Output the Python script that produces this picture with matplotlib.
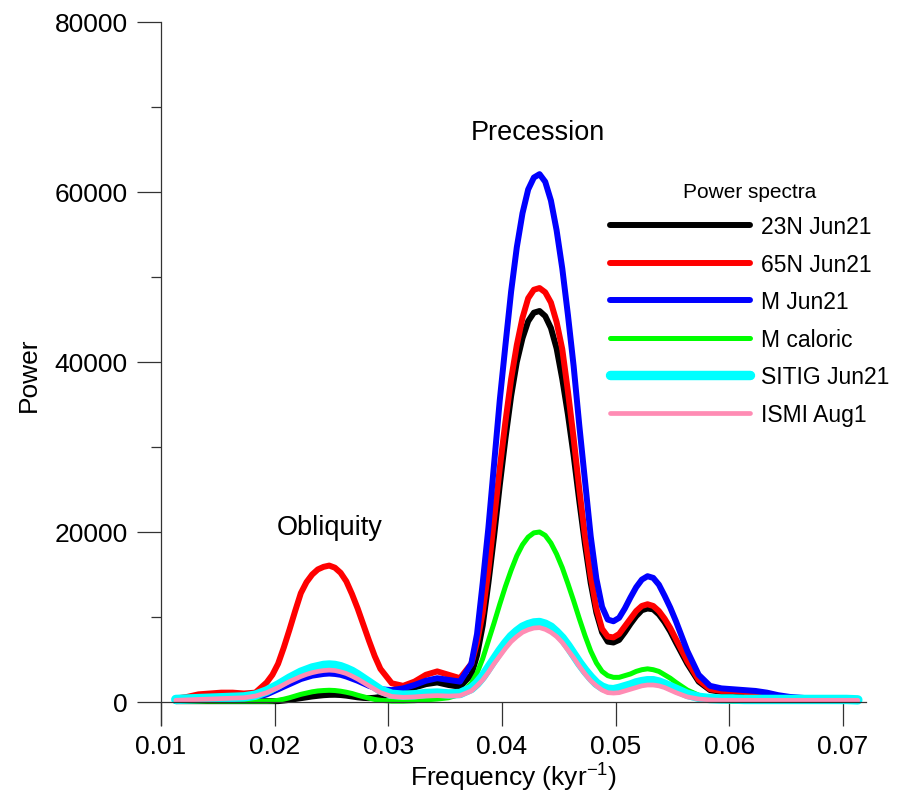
import matplotlib
matplotlib.use('Agg')
import matplotlib.pyplot as plt
import numpy as np

plt.rcParams['font.family'] = ['Liberation Sans', 'DejaVu Sans']
plt.rcParams['mathtext.default'] = 'regular'

# frequency grid (kyr^-1): finer steps around the obliquity and precession peaks
freq = np.concatenate([np.linspace(0.0113, 0.0183, 8),
                       np.linspace(0.0193, 0.0293, 21),
                       np.linspace(0.0303, 0.0363, 7),
                       np.linspace(0.0373, 0.0553, 37),
                       np.linspace(0.0563, 0.0713, 16)])

# power spectra
p_23n = ([100, 100, 100, 100, 100, 100, 100, 100] +
         [100, 100, 100, 170, 250, 350, 450, 550, 650, 730, 800, 840, 850, 820, 750, 650,
          550, 480, 450, 500, 600] +
         [900, 1300, 1700, 2100, 2300, 2000, 1800] +
         [3200, 5500, 9000, 14000, 19500, 25500, 31000, 36000, 40000, 42800, 44800, 45800,
          46000, 45400, 44000, 41600, 38000, 33800, 29000, 23600, 18500, 14000, 10500, 8200,
          7100, 7000, 7300, 8200, 9200, 10100, 10800, 11000, 10900, 10300, 9400, 8300, 7000] +
         [4500, 2400, 1400, 1200, 1200, 1100, 800, 500, 300, 300, 300, 300, 300, 300, 300, 300])
p_65n = ([400, 600, 900, 1000, 1100, 1100, 1000, 1100] +
         [2300, 3200, 4500, 6400, 8500, 10700, 12800, 14100, 15000, 15600, 15900, 16050, 15800,
          15200, 14200, 12700, 11000, 9100, 7200, 5400, 3900] +
         [2200, 1900, 2400, 3200, 3600, 3200, 2800] +
         [4500, 7000, 10500, 15500, 21500, 27500, 33000, 38000, 42000, 45200, 47500, 48500,
          48700, 48200, 47000, 44700, 41500, 36500, 31000, 25000, 19500, 14800, 11000, 8600,
          7700, 7600, 8000, 8900, 9800, 10700, 11300, 11500, 11300, 10700, 9800, 8700, 7400] +
         [4800, 2600, 1500, 1300, 1300, 1200, 900, 600, 400, 300, 300, 300, 300, 300, 300, 300])
p_m = ([300, 300, 300, 300, 300, 300, 350, 500] +
       [900, 1200, 1500, 1800, 2100, 2400, 2700, 2900, 3100, 3200, 3300, 3350, 3300, 3200,
        3000, 2750, 2500, 2200, 1900, 1700, 1500] +
       [1400, 1600, 2000, 2500, 2800, 2600, 2400] +
       [4500, 8000, 14000, 20500, 28000, 35500, 42000, 48300, 53500, 57500, 60300, 61700,
        62100, 61200, 59000, 55500, 51000, 45500, 39500, 32500, 26000, 19500, 14500, 11200,
        9700, 9500, 9900, 11000, 12300, 13500, 14400, 14800, 14600, 13800, 12500, 11100, 9500] +
       [6000, 3200, 1900, 1600, 1500, 1400, 1300, 1100, 800, 600, 500, 400, 300, 300, 300, 300])
p_mcal = ([100, 100, 100, 100, 100, 100, 100, 100] +
          [100, 120, 200, 330, 500, 700, 900, 1050, 1200, 1300, 1350, 1380, 1350, 1270, 1150,
           1000, 800, 620, 450, 300, 200] +
          [100, 100, 150, 250, 350, 500, 900] +
          [2200, 3400, 5100, 7200, 9300, 11500, 13600, 15500, 17200, 18500, 19400, 19900,
           20000, 19600, 18700, 17400, 15800, 13900, 11900, 9800, 7800, 6000, 4600, 3600,
           3100, 2900, 2900, 3100, 3300, 3600, 3800, 3900, 3800, 3600, 3200, 2800, 2300] +
          [1400, 800, 400, 200, 100, 100, 100, 100, 100, 100, 100, 100, 100, 100, 100, 100])
p_sitig = ([300, 350, 400, 450, 500, 550, 600, 800] +
           [1300, 1650, 2000, 2400, 2800, 3150, 3500, 3750, 4000, 4150, 4300, 4350, 4300, 4150,
            3900, 3600, 3200, 2750, 2300, 1850, 1400] +
           [900, 800, 850, 1000, 1050, 950, 1000] +
           [1600, 2200, 3000, 4000, 5000, 6000, 6900, 7700, 8300, 8800, 9100, 9300,
            9350, 9150, 8800, 8200, 7500, 6600, 5600, 4600, 3700, 2900, 2200, 1750,
            1500, 1450, 1600, 1800, 2000, 2250, 2400, 2500, 2500, 2350, 2100, 1800, 1500] +
           [900, 550, 400, 350, 350, 300, 300, 300, 300, 300, 300, 300, 300, 300, 300, 250])
p_ismi = ([200, 250, 300, 350, 400, 450, 500, 700] +
          [1100, 1400, 1700, 2050, 2400, 2700, 3000, 3250, 3450, 3600, 3700, 3750, 3700, 3550,
           3350, 3050, 2700, 2300, 1900, 1500, 1100] +
          [650, 550, 600, 700, 750, 700, 750] +
          [1300, 1900, 2600, 3500, 4500, 5400, 6300, 7100, 7700, 8200, 8500, 8700,
           8750, 8550, 8200, 7700, 7000, 6100, 5200, 4200, 3300, 2500, 1900, 1400,
           1100, 1050, 1100, 1300, 1500, 1700, 1900, 2000, 2000, 1900, 1700, 1400, 1100] +
          [600, 350, 250, 200, 200, 200, 200, 200, 200, 200, 200, 200, 200, 200, 200, 200])

labels = ['23N Jun21', '65N Jun21', 'M Jun21', 'M caloric', 'SITIG Jun21', 'ISMI Aug1']
colors = ['#000000', '#ff0000', '#0000ff', '#00ff00', '#00ffff', '#ff8cb4']
widths = [4.3, 4.3, 4.3, 3.6, 6.8, 3.4]
series = [p_23n, p_65n, p_m, p_mcal, p_sitig, p_ismi]

fig = plt.figure(figsize=(8.99, 8.03), dpi=100)
ax = fig.add_axes([0.17909, 0.09589, 0.78398, 0.87547])

for vals, lab, c, lw in zip(series, labels, colors, widths):
    ax.plot(freq, vals, color=c, lw=lw, label=lab,
            solid_capstyle='round', solid_joinstyle='round')

ax.set_xlim(0.01, 0.072)
ax.set_ylim(-2706, 80000)
ax.set_xticks([0.01, 0.02, 0.03, 0.04, 0.05, 0.06, 0.07])
ax.set_xticklabels(['0.01', '0.02', '0.03', '0.04', '0.05', '0.06', '0.07'])
ax.set_yticks([0, 20000, 40000, 60000, 80000])
ax.set_yticks([10000, 30000, 50000, 70000], minor=True)

# axes style
for s in ['top', 'right']:
    ax.spines[s].set_visible(False)
ax.spines['bottom'].set_position(('data', 0))
ax.spines['left'].set_color('#333333')
ax.spines['bottom'].set_color('#333333')
ax.spines['left'].set_linewidth(0.9)
ax.spines['bottom'].set_linewidth(0.9)
ax.tick_params(axis='both', which='major', direction='out', length=17, width=0.9,
               color='#333333', labelsize=19)
ax.tick_params(axis='y', which='major', pad=7)
ax.tick_params(axis='x', which='major', pad=6)
ax.tick_params(axis='y', which='minor', direction='out', length=7, width=0.9, color='#333333')

ax.set_xlabel('Frequency (kyr$^{-1}$)', fontsize=19, labelpad=2)
ax.set_ylabel('Power', fontsize=19, labelpad=10)

# annotations
ax.text(0.04317, 67000, 'Precession', fontsize=19.5, ha='center', va='center')
ax.text(0.02487, 20600, 'Obliquity', fontsize=19.5, ha='center', va='center')

leg = ax.legend(loc='upper left', bbox_to_anchor=(610 / 899, 1 - 183 / 803),
                bbox_transform=fig.transFigure, frameon=False, fontsize=16.5,
                title='Power spectra', title_fontsize=15, handlelength=6.1,
                handletextpad=0.5, labelspacing=0.63, borderpad=0, borderaxespad=0)

plt.savefig('out.png', dpi=100)
